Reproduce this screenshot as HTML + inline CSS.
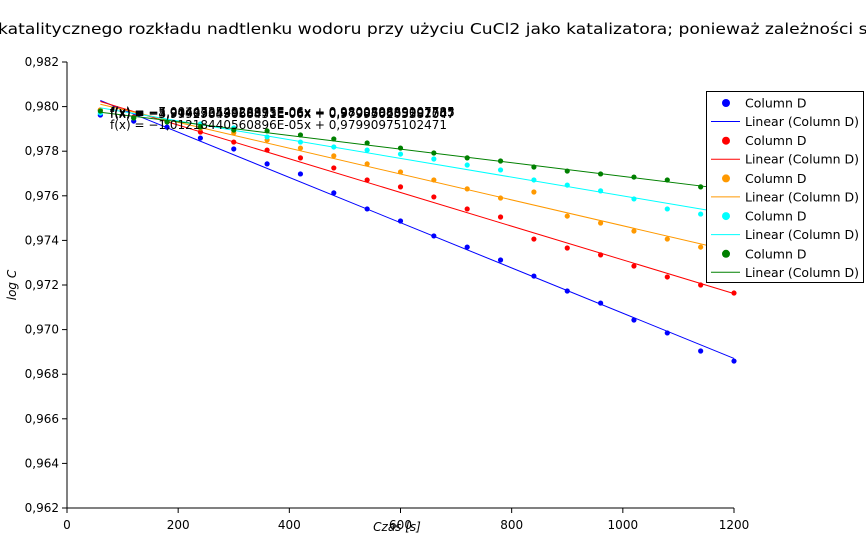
<!DOCTYPE html>
<html><head><meta charset="utf-8"><style>
body{margin:0;background:#fff}
svg text{font-family:"DejaVu Sans","Liberation Sans",sans-serif}
</style></head><body>
<svg id="c" width="866" height="548" xmlns="http://www.w3.org/2000/svg"></svg>
<script>
const xs=[60,120,180,240,300,360,420,480,540,600,660,720,780,840,900,960,1020,1080,1140,1200];
const blue=[0.97962,0.97935,0.97908,0.97859,0.97810,0.97743,0.97698,0.97613,0.97541,0.97487,0.97420,0.97370,0.97312,0.97240,0.97173,0.97119,0.97043,0.96985,0.96904,0.96859];
const red=[0.97985,0.97953,0.97935,0.97886,0.97841,0.97805,0.97770,0.97725,0.97671,0.97640,0.97595,0.97541,0.97505,0.97406,0.97366,0.97335,0.97285,0.97236,0.97200,0.97164];
const orange=[0.97985,0.97949,0.97935,0.97904,0.97882,0.97850,0.97814,0.97779,0.97743,0.97707,0.97671,0.97631,0.97590,0.97617,0.97509,0.97478,0.97442,0.97406,0.97370,0.97340];
const cyan=[0.97971,0.97949,0.97935,0.97922,0.97904,0.97864,0.97841,0.97819,0.97805,0.97787,0.97765,0.97738,0.97716,0.97671,0.97648,0.97622,0.97586,0.97541,0.97518,0.97500];
const green=[0.97980,0.97949,0.97931,0.97909,0.97895,0.97891,0.97873,0.97855,0.97837,0.97814,0.97792,0.97770,0.97756,0.97729,0.97711,0.97698,0.97684,0.97671,0.97640,0.97620];
const yTicks=[0.962,0.964,0.966,0.968,0.970,0.972,0.974,0.976,0.978,0.980,0.982];
const xTicks=[0,200,400,600,800,1000,1200];
const series=[[blue,'#0000ff'],[red,'#ff0000'],[orange,'#ff9900'],[cyan,'#00ffff'],[green,'#008000']];
const equations=["f(x) = −7,00447254328835E-06x + 0,980089889107785","f(x) = −5,94703542926995E-06x + 0,980050869001735","f(x) = −4,91463053958573E-06x + 0,979876635292507","f(x) = −3,99929849068451E-06x + 0,979950205587047","f(x) = −1,01218440560896E-05x + 0,97990975102471"];
const svg=document.getElementById('c');const NS='http://www.w3.org/2000/svg';
const X=v=>67+v*(734-67)/1200, Y=v=>62+(0.982-v)*(508-62)/0.02;
function el(t,a,p){const e=document.createElementNS(NS,t);for(const k in a)e.setAttribute(k,a[k]);(p||svg).appendChild(e);return e;}
function txt(s,a){const e=el('text',a);e.textContent=s;return e;}
let t=txt("katalitycznego rozkładu nadtlenku wodoru przy użyciu CuCl2 jako katalizatora; ponieważ zależności są",{x:-2,y:34,'font-size':15,textLength:880,lengthAdjust:'spacingAndGlyphs'});

el('line',{x1:67,y1:62,x2:67,y2:508,stroke:'#000'});
el('line',{x1:67,y1:508,x2:734,y2:508,stroke:'#000'});
yTicks.forEach(v=>{el('line',{x1:62,x2:67,y1:Y(v),y2:Y(v),stroke:'#000'});
 let e=txt(v.toFixed(3).replace('.',','),{x:59,y:Y(v)+4,'font-size':12,'text-anchor':'end'});
 });
xTicks.forEach(v=>{el('line',{x1:X(v),x2:X(v),y1:508,y2:513,stroke:'#000'});
 let e=txt(String(v),{x:X(v),y:529,'font-size':12,'text-anchor':'middle'});
 });
let xl=txt("Czas [s]",{x:397,y:531,'font-size':12,'font-style':'italic','text-anchor':'middle'});

let yl=txt("log C",{x:16,y:285,'font-size':12,'font-style':'italic','text-anchor':'middle',transform:'rotate(-90 16 285)'});

series.forEach(([d,c],i)=>{
 const n=xs.length;let sx=0,sy=0,sxx=0,sxy=0;xs.forEach((x,j)=>{sx+=x;sy+=d[j];sxx+=x*x;sxy+=x*d[j];});
 const m=(n*sxy-sx*sy)/(n*sxx-sx*sx),b=(sy-m*sx)/n;
 let l=el('line',{x1:X(60),y1:Y(m*60+b),x2:X(1200),y2:Y(m*1200+b),stroke:c,'stroke-width':1});
 
 xs.forEach((x,j)=>{let p=el('circle',{cx:X(x),cy:Y(d[j]),r:2.6,fill:c});
  });
});
equations.forEach((s,i)=>{let e=txt(s,{x:110,y:i<4?116+i*0.7:129,'font-size':12});
 });
const g=el('g',{});
el('rect',{x:706.5,y:91.5,width:157,height:191,fill:'#fff',stroke:'#000'},g);
series.forEach(([d,c],i)=>{const y0=103+i*37.7;
 el('circle',{cx:726,cy:y0,r:4,fill:c},g);
 let a=el('text',{x:745,y:y0+4.5,'font-size':12.5},g);a.textContent="Column D";
 el('line',{x1:711,x2:740,y1:y0+18.5,y2:y0+18.5,stroke:c},g);
 let b=el('text',{x:745,y:y0+23,'font-size':12.5},g);b.textContent="Linear (Column D)";
});
</script></body></html>
